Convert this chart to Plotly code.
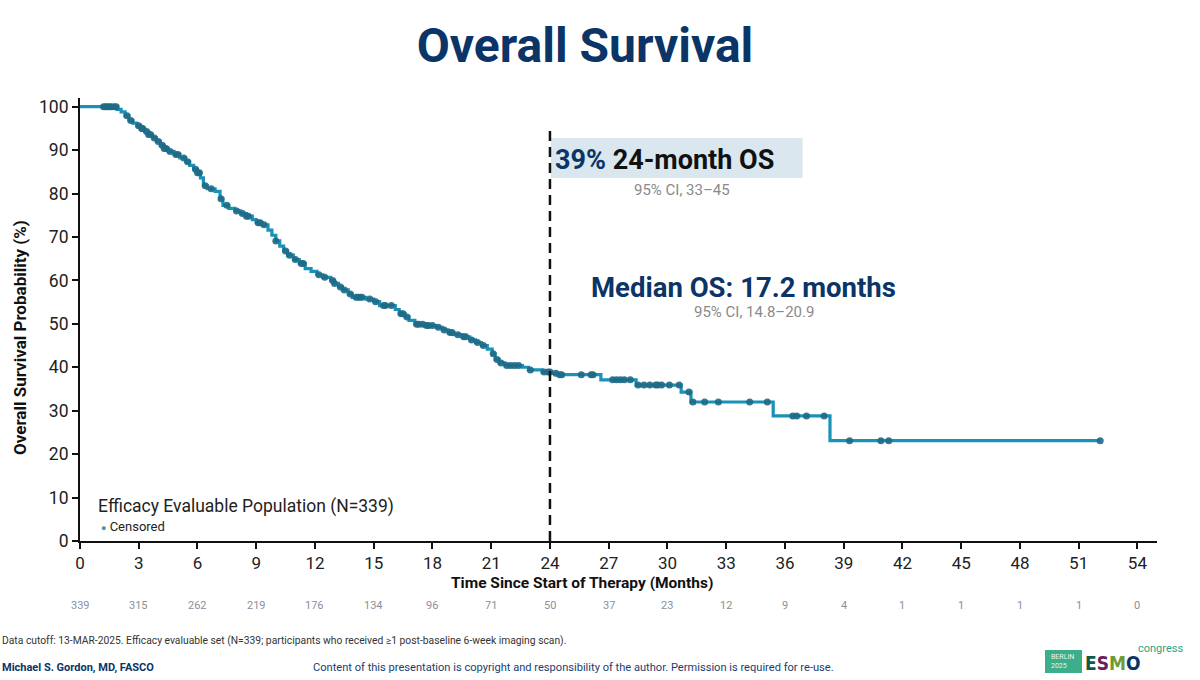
import numpy as np
import plotly.graph_objects as go

# ---------------- data ----------------
event_times = [0, 1.9, 2.1, 2.3, 2.5, 2.7, 2.9, 3.1, 3.3, 3.5, 3.7, 3.9, 4.1, 4.3, 4.5, 4.8,
               5.1, 5.4, 5.6, 5.8, 6.0, 6.15, 6.3, 6.5, 6.9, 7.15, 7.3, 7.6, 7.9, 8.2, 8.5,
               8.8, 9.0, 9.3, 9.6, 9.8, 10.0, 10.2, 10.4, 10.6, 10.9, 11.2, 11.5, 11.8, 12.1,
               12.4, 12.8, 13.0, 13.2, 13.4, 13.7, 13.9, 14.6, 15.0, 15.3, 16.1, 16.3, 16.6,
               16.8, 17.1, 17.6, 18.2, 18.5, 18.8, 19.1, 19.5, 19.9, 20.2, 20.5, 20.8, 21.05,
               21.2, 21.4, 21.7, 22.6, 22.9, 23.6, 24.1, 24.4, 26.6, 28.4, 30.7, 31.2, 35.4,
               38.3]
survival = [100, 99.4, 98.8, 97.9, 96.8, 96.2, 95.6, 95.0, 94.3, 93.6, 92.8, 92.0, 91.1, 90.4,
            89.7, 89.0, 88.2, 87.3, 86.5, 85.6, 84.8, 83.6, 81.8, 81.1, 80.5, 78.8, 77.3, 76.6,
            76.0, 75.4, 74.8, 74.0, 73.3, 72.8, 71.6, 70.4, 69.1, 67.9, 66.8, 65.8, 64.8, 63.9,
            62.7, 62.1, 61.3, 60.7, 60.0, 59.3, 58.5, 57.8, 56.9, 56.1, 55.7, 55.1, 54.2, 53.3,
            52.3, 51.6, 50.8, 49.9, 49.6, 49.2, 48.6, 48.0, 47.5, 47.0, 46.3, 45.7, 45.0, 44.2,
            43.1, 41.8, 41.0, 40.4, 40.0, 39.4, 38.9, 38.6, 38.3, 37.1, 35.9, 34.3, 32.0, 28.8,
            23.1]
last_followup = 52.1

censor_times = [1.2, 1.3, 1.4, 1.5, 1.6, 1.75, 1.85, 2.4, 2.6, 3.0, 3.15, 3.2, 3.4, 3.5, 3.6,
                3.8, 4.0, 4.2, 4.3, 4.4, 4.6, 4.9, 5.0, 5.3, 5.5, 5.9, 6.0, 6.1, 6.4, 6.7, 7.2,
                7.5, 8.0, 8.3, 8.5, 8.6, 9.1, 9.2, 9.4, 10.0, 10.5, 10.7, 11.0, 11.3, 11.4,
                12.2, 12.5, 12.9, 13.0, 13.3, 13.5, 13.8, 14.1, 14.2, 14.3, 14.4, 14.8, 15.1,
                15.5, 15.6, 15.9, 16.4, 16.5, 16.7, 17.2, 17.3, 17.5, 17.7, 17.8, 18.0, 18.3,
                18.6, 18.9, 19.0, 19.3, 19.6, 19.7, 20.0, 20.3, 20.6, 21.1, 21.3, 21.5, 21.8,
                22.0, 22.2, 22.4, 23.0, 23.7, 23.9, 24.0, 24.3, 24.5, 24.6, 25.6, 26.1, 26.2,
                27.2, 27.4, 27.6, 27.8, 28.1, 28.5, 28.8, 29.1, 29.4, 29.5, 29.7, 30.1, 30.6,
                31.1, 31.3, 31.9, 32.6, 34.2, 35.1, 36.4, 36.6, 37.1, 38.0, 39.3, 40.9, 41.3,
                52.1]

x_ticks = list(range(0, 55, 3))
y_ticks = list(range(0, 101, 10))
at_risk = [339, 315, 262, 219, 176, 134, 96, 71, 50, 37, 23, 12, 9, 4, 1, 1, 1, 1, 0]

# ---------------- layout helpers ----------------
L, T, R, B = 80, 98, 1157, 541
def px(x):
    return (x - L) / (R - L)
def py(y):
    return (B - y) / (B - T)

NAVY = "#0b3467"
LINE = "#1892b7"
MARK = "#1f6a86"
FONT = "Roboto"

# step curve
xs = event_times + [last_followup]
ys = survival + [survival[-1]]
idx = np.searchsorted(np.array(event_times), np.array(censor_times), side="right") - 1
censor_y = [survival[i] for i in idx]

fig = go.Figure()
fig.add_trace(go.Scatter(x=xs, y=ys, mode="lines", line=dict(color=LINE, width=3.2, shape="hv"),
                         showlegend=False, hoverinfo="skip"))
fig.add_trace(go.Scatter(x=censor_times, y=censor_y, mode="markers",
                         marker=dict(color=MARK, size=7, opacity=0.9),
                         showlegend=False, hoverinfo="skip"))

# dashed line at 24 months
fig.add_shape(type="line", x0=24, x1=24, y0=0, y1=95.8, xref="x", yref="y",
              line=dict(color="#111111", width=2.5, dash="10px,6px"))

# highlight box
fig.add_shape(type="rect", x0=24.05, x1=36.9, y0=83.6, y1=92.8, xref="x", yref="y",
              fillcolor="#dae7ee", line=dict(width=0), layer="below")

ann = []
ann.append(dict(x=px(553), y=py(160), xref="paper", yref="paper", xanchor="left", yanchor="middle",
                text=f"<b><span style='color:{NAVY}'>39%</span> 24-month OS</b>",
                font=dict(family=FONT, size=27, color="#111111"), showarrow=False))
ann.append(dict(x=px(682), y=py(190), xref="paper", yref="paper", xanchor="center", yanchor="middle",
                text="95% CI, 33–45", font=dict(family=FONT, size=15, color="#8a8a8a"),
                showarrow=False))
ann.append(dict(x=px(743), y=py(287), xref="paper", yref="paper", xanchor="center", yanchor="middle",
                text="<b>Median OS: 17.2 months</b>", font=dict(family=FONT, size=27.5, color=NAVY),
                showarrow=False))
ann.append(dict(x=px(754), y=py(312), xref="paper", yref="paper", xanchor="center", yanchor="middle",
                text="95% CI, 14.8–20.9", font=dict(family=FONT, size=15, color="#8a8a8a"),
                showarrow=False))
# legend-like text
ann.append(dict(x=px(96), y=py(506), xref="paper", yref="paper", xanchor="left", yanchor="middle",
                text="Efficacy Evaluable Population (N=339)",
                font=dict(family=FONT, size=17.5, color="#222222"), showarrow=False))
ann.append(dict(x=px(99), y=py(526), xref="paper", yref="paper", xanchor="left", yanchor="middle",
                text="<span style='color:#4f8ea3;font-size:9px'>●</span> Censored",
                font=dict(family=FONT, size=13, color="#222222"), showarrow=False))
# axis titles
ann.append(dict(x=px(582), y=py(583), xref="paper", yref="paper", xanchor="center", yanchor="middle",
                text="<b>Time Since Start of Therapy (Months)</b>",
                font=dict(family=FONT, size=15.5, color="#111111"), showarrow=False))
ann.append(dict(x=px(20), y=py(338), xref="paper", yref="paper", xanchor="center", yanchor="middle",
                text="<b>Overall Survival Probability (%)</b>", textangle=-90,
                font=dict(family=FONT, size=17, color="#111111"), showarrow=False))
# numbers at risk
for t, n in zip(x_ticks, at_risk):
    ann.append(dict(x=t, y=py(605), xref="x", yref="paper", xanchor="center", yanchor="middle",
                    text=str(n), font=dict(family=FONT, size=11, color="#8a9099"), showarrow=False))
# footer
ann.append(dict(x=px(0), y=py(640), xref="paper", yref="paper", xanchor="left", yanchor="middle",
                text="Data cutoff: 13-MAR-2025. Efficacy evaluable set (N=339; participants who received ≥1 post-baseline 6-week imaging scan).",
                font=dict(family=FONT, size=10.3, color="#333333"), showarrow=False))
ann.append(dict(x=px(0), y=py(667), xref="paper", yref="paper", xanchor="left", yanchor="middle",
                text="<b>Michael S. Gordon, MD, FASCO</b>",
                font=dict(family=FONT, size=11, color=NAVY), showarrow=False))
ann.append(dict(x=px(573), y=py(667), xref="paper", yref="paper", xanchor="center", yanchor="middle",
                text="Content of this presentation is copyright and responsibility of the author. Permission is required for re-use.",
                font=dict(family=FONT, size=11.1, color="#1b3d6e"), showarrow=False))
# ESMO logo (approximation)
fig.add_shape(type="rect", xref="paper", yref="paper", x0=px(1045), x1=px(1082), y0=py(673), y1=py(650),
              fillcolor="#3cae8c", line=dict(width=0))
ann.append(dict(x=px(1049), y=py(661.5), xref="paper", yref="paper", xanchor="left", yanchor="middle",
                text="BERLIN<br>2025", font=dict(family=FONT, size=7, color="#e6f5ef"),
                showarrow=False, align="left"))
ann.append(dict(x=px(1083), y=py(663), xref="paper", yref="paper", xanchor="left", yanchor="middle",
                text=("<b><span style='color:#0c5a47'>E</span><span style='color:#6a1f5c'>S</span>"
                      f"<span style='color:#6d9a31'>M</span><span style='color:{NAVY}'>O</span></b>"),
                font=dict(family="Liberation Sans Narrow, DejaVu Sans Condensed", size=19, color=NAVY),
                showarrow=False))
ann.append(dict(x=px(1136), y=py(648), xref="paper", yref="paper", xanchor="left", yanchor="middle",
                text="congress", font=dict(family=FONT, size=11, color="#2aa383"), showarrow=False))

fig.update_layout(
    width=1200, height=680,
    margin=dict(l=L, r=1200 - R, t=T, b=680 - B),
    paper_bgcolor="white", plot_bgcolor="white",
    title=dict(text="<b>Overall Survival</b>", x=585 / 1200, y=1 - 45 / 680, xanchor="center",
               yanchor="middle", font=dict(family=FONT, size=48, color=NAVY)),
    annotations=ann,
    showlegend=False,
)
fig.update_xaxes(range=[0, 55], tickvals=x_ticks, ticktext=[str(v) for v in x_ticks],
                 showline=True, linecolor="#111111", linewidth=2, ticks="outside", ticklen=6,
                 tickwidth=2, tickcolor="#111111", showgrid=False, zeroline=False,
                 tickfont=dict(family=FONT, size=17, color="#222222"))
fig.update_yaxes(range=[0, 102], tickvals=y_ticks, showline=True, linecolor="#111111", linewidth=2,
                 ticks="outside", ticklen=6, tickwidth=2, tickcolor="#111111", showgrid=False,
                 zeroline=False, tickfont=dict(family=FONT, size=17.5, color="#222222"))

fig.write_html("out.html")
